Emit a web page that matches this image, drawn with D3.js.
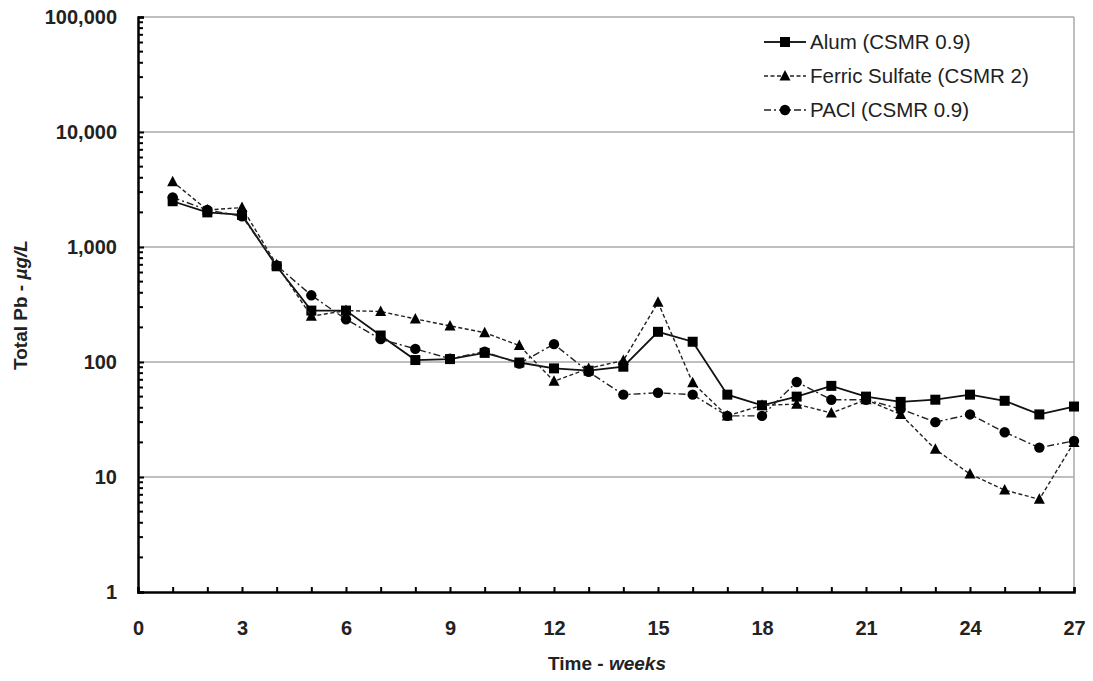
<!DOCTYPE html>
<html>
<head>
<meta charset="utf-8">
<script src="https://cdn.jsdelivr.net/npm/d3@7"></script>
<style>
  html, body { margin: 0; padding: 0; background: #fff; }
  svg { display: block; font-family: "Liberation Sans", Arial, sans-serif; }
</style>
</head>
<body>
<svg id="chart" width="1093" height="681"></svg>
<script>
// Weekly sampling times
const weeks = [1,2,3,4,5,6,7,8,9,10,11,12,13,14,15,16,17,18,19,20,21,22,23,24,25,26,27];

// Total lead concentrations (µg/L) per coagulant
const alum = [2500,2000,1900,680,280,280,170,104,106,120,99,88,84,91,183,150,52,42,50,62,50,45,47,52,46,35,41];
const ferric = [3700,2100,2200,700,250,280,275,237,206,180,139,68,88,103,330,66,34,42,43,36,47,35,17.4,10.6,7.7,6.4,20];
const pacl = [2700,2100,1850,690,380,235,158,130,107,123,97,143,82,52,54,52,34,34,67,47,47,39,30,35,24.5,18,20.6];

const seriesNames = ["Alum (CSMR 0.9)", "Ferric Sulfate (CSMR 2)", "PACl (CSMR 0.9)"];
const seriesMarkers = ["square", "triangle", "circle"];
const seriesDash = [null, "4,2.5", "7,3,2,3"];

const xTicks = [0,3,6,9,12,15,18,21,24,27];
const yTicks = [1,10,100,1000,10000,100000];

const svg = d3.select("#chart");
const x = d3.scaleLinear().domain([0, 27]).range([138, 1074]);
const y = d3.scaleLog().domain([1, 100000]).range([592, 17]);

// Horizontal gridlines at each decade
svg.append("g").selectAll("line").data(yTicks.slice(1)).join("line")
  .attr("x1", x(0)).attr("x2", x(27))
  .attr("y1", d => y(d)).attr("y2", d => y(d))
  .attr("stroke", "#aaa").attr("stroke-width", 1.5);

// Right frame edge
svg.append("line")
  .attr("x1", x(27)).attr("x2", x(27)).attr("y1", y(100000)).attr("y2", y(1))
  .attr("stroke", "#aaa").attr("stroke-width", 1.5);

// Y axis with decade labels and minor log ticks pointing into the plot
const minor = [];
for (let e = 0; e < 5; e++) for (let m = 2; m <= 9; m++) minor.push(m * Math.pow(10, e));
const yAxis = d3.axisLeft(y).tickValues(yTicks).tickFormat(d3.format(",")).tickSize(-6).tickPadding(21);
const gy = svg.append("g").attr("transform", `translate(${x(0)},0)`).call(yAxis);
gy.select(".domain").attr("stroke", "#000").attr("stroke-width", 2.5);
gy.selectAll(".tick line").attr("stroke", "#000").attr("stroke-width", 2);
gy.selectAll(".tick text").attr("font-size", 20).attr("font-weight", "bold").attr("fill", "#222")
  .attr("font-family", "Liberation Sans, Arial, sans-serif");
gy.append("g").selectAll("line").data(minor).join("line")
  .attr("x1", 0).attr("x2", 5).attr("y1", d => y(d)).attr("y2", d => y(d))
  .attr("stroke", "#000").attr("stroke-width", 2);

// X axis with a tick every week
const xAxis = d3.axisBottom(x).tickValues(d3.range(0, 28)).tickSize(-5)
  .tickFormat(d => xTicks.includes(d) ? d : "").tickPadding(29);
const gx = svg.append("g").attr("transform", `translate(0,${y(1)})`).call(xAxis);
gx.select(".domain").attr("stroke", "#000").attr("stroke-width", 2.5);
gx.selectAll(".tick line").attr("stroke", "#000").attr("stroke-width", 2);
gx.selectAll(".tick text").attr("font-size", 20).attr("font-weight", "bold").attr("fill", "#222")
  .attr("font-family", "Liberation Sans, Arial, sans-serif");

// Axis titles
const xt = svg.append("text").attr("x", 607).attr("y", 670).attr("text-anchor", "middle")
  .attr("font-size", 19).attr("font-weight", "bold").attr("fill", "#222");
xt.append("tspan").text("Time - ");
xt.append("tspan").attr("font-style", "italic").text("weeks");

const yt = svg.append("text").attr("transform", "translate(27,305) rotate(-90)").attr("text-anchor", "middle")
  .attr("font-size", 19).attr("font-weight", "bold").attr("fill", "#222");
yt.append("tspan").text("Total Pb - ");
yt.append("tspan").attr("font-style", "italic").text("µg/L");

// Marker shapes
function marker(g, kind, cx, cy) {
  if (kind === "square") {
    g.append("rect").attr("x", cx - 5).attr("y", cy - 5).attr("width", 10).attr("height", 10).attr("fill", "#000");
  } else if (kind === "triangle") {
    g.append("path").attr("d", `M${cx},${cy - 6}L${cx + 5.5},${cy + 4.5}L${cx - 5.5},${cy + 4.5}Z`).attr("fill", "#000");
  } else {
    g.append("circle").attr("cx", cx).attr("cy", cy).attr("r", 5.2).attr("fill", "#000");
  }
}

const data = [alum, ferric, pacl];
const line = d3.line().x(d => x(d[0])).y(d => y(d[1]));

data.forEach((vals, i) => {
  const pts = weeks.map((w, k) => [w, vals[k]]);
  const g = svg.append("g");
  g.append("path").datum(pts).attr("d", line).attr("fill", "none")
    .attr("stroke", i === 0 ? "#111" : "#222").attr("stroke-width", i === 0 ? 1.8 : 1.4)
    .attr("stroke-dasharray", seriesDash[i]);
  pts.forEach(p => marker(g, seriesMarkers[i], x(p[0]), y(p[1])));
});

// Legend
const legend = svg.append("g");
seriesNames.forEach((name, i) => {
  const ly = 42 + i * 34;
  legend.append("line").attr("x1", 764).attr("x2", 806).attr("y1", ly).attr("y2", ly)
    .attr("stroke", "#222").attr("stroke-width", i === 0 ? 1.8 : 1.4).attr("stroke-dasharray", seriesDash[i]);
  marker(legend, seriesMarkers[i], 785, ly);
  legend.append("text").attr("x", 810).attr("y", ly + 7).attr("font-size", 20.5).attr("fill", "#222").text(name);
});
</script>
</body>
</html>
